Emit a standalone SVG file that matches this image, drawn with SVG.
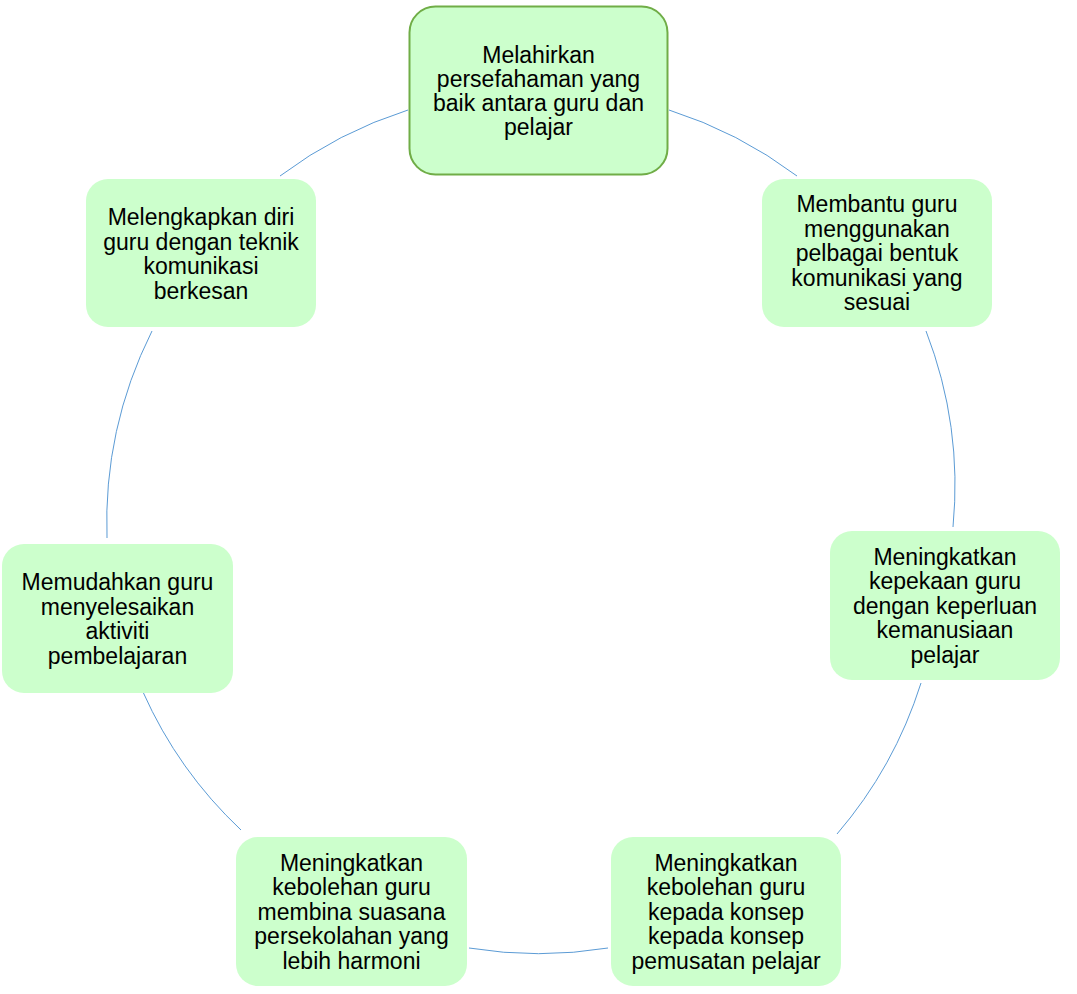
<svg xmlns="http://www.w3.org/2000/svg" width="1077" height="994" viewBox="0 0 1077 994">
<style>
.bg{fill:#ffffff}
.node{fill:#ccffcc;stroke:none}
.main{fill:#ccffcc;stroke:#70ad47;stroke-width:2}
.conn{fill:none;stroke:#5b9bd5;stroke-width:1}
.t{font-family:"Liberation Sans",Arial,sans-serif;font-size:23px;fill:#000000;text-anchor:middle}
</style>
<rect class="bg" x="0" y="0" width="1077" height="994"/>
<g id="connectors">
<path class="conn" d="M669,110 A430,430 0 0 1 797,176"/>
<path class="conn" d="M926,331 A430,430 0 0 1 953,527"/>
<path class="conn" d="M921,683 A430,430 0 0 1 837,834"/>
<path class="conn" d="M608,948 A430,430 0 0 1 469,948"/>
<path class="conn" d="M241,830 A430,430 0 0 1 143,692"/>
<path class="conn" d="M107,538 A430,430 0 0 1 152,331"/>
<path class="conn" d="M280,176 A430,430 0 0 1 408,110"/>
</g>
<g id="n0">
<rect class="main" x="409.5" y="6.5" width="258" height="168" rx="26"/>
<text class="t" x="538.5" y="62.5">Melahirkan</text>
<text class="t" x="538.5" y="86.8">persefahaman yang</text>
<text class="t" x="538.5" y="111.1">baik antara guru dan</text>
<text class="t" x="538.5" y="135.4">pelajar</text>
</g>
<g id="n1">
<rect class="node" x="762" y="179" width="230" height="148" rx="22"/>
<text class="t" x="877" y="212">Membantu guru</text>
<text class="t" x="877" y="236.5">menggunakan</text>
<text class="t" x="877" y="261">pelbagai bentuk</text>
<text class="t" x="877" y="285.5">komunikasi yang</text>
<text class="t" x="877" y="310">sesuai</text>
</g>
<g id="n2">
<rect class="node" x="830" y="531" width="230" height="149" rx="22"/>
<text class="t" x="945" y="564.5">Meningkatkan</text>
<text class="t" x="945" y="589">kepekaan guru</text>
<text class="t" x="945" y="613.5">dengan keperluan</text>
<text class="t" x="945" y="638">kemanusiaan</text>
<text class="t" x="945" y="662.5">pelajar</text>
</g>
<g id="n3">
<rect class="node" x="611" y="837" width="230" height="149" rx="22"/>
<text class="t" x="726" y="870.5">Meningkatkan</text>
<text class="t" x="726" y="895">kebolehan guru</text>
<text class="t" x="726" y="919.5">kepada konsep</text>
<text class="t" x="726" y="944">kepada konsep</text>
<text class="t" x="726" y="968.5">pemusatan pelajar</text>
</g>
<g id="n4">
<rect class="node" x="236" y="837" width="231" height="149" rx="22"/>
<text class="t" x="351.5" y="870.5">Meningkatkan</text>
<text class="t" x="351.5" y="895">kebolehan guru</text>
<text class="t" x="351.5" y="919.5">membina suasana</text>
<text class="t" x="351.5" y="944">persekolahan yang</text>
<text class="t" x="351.5" y="968.5">lebih harmoni</text>
</g>
<g id="n5">
<rect class="node" x="2" y="544" width="231" height="149" rx="22"/>
<text class="t" x="117.5" y="590">Memudahkan guru</text>
<text class="t" x="117.5" y="614.5">menyelesaikan</text>
<text class="t" x="117.5" y="639">aktiviti</text>
<text class="t" x="117.5" y="663.5">pembelajaran</text>
</g>
<g id="n6">
<rect class="node" x="86" y="179" width="230" height="148" rx="22"/>
<text class="t" x="201" y="225">Melengkapkan diri</text>
<text class="t" x="201" y="249.5">guru dengan teknik</text>
<text class="t" x="201" y="274">komunikasi</text>
<text class="t" x="201" y="298.5">berkesan</text>
</g>
</svg>
